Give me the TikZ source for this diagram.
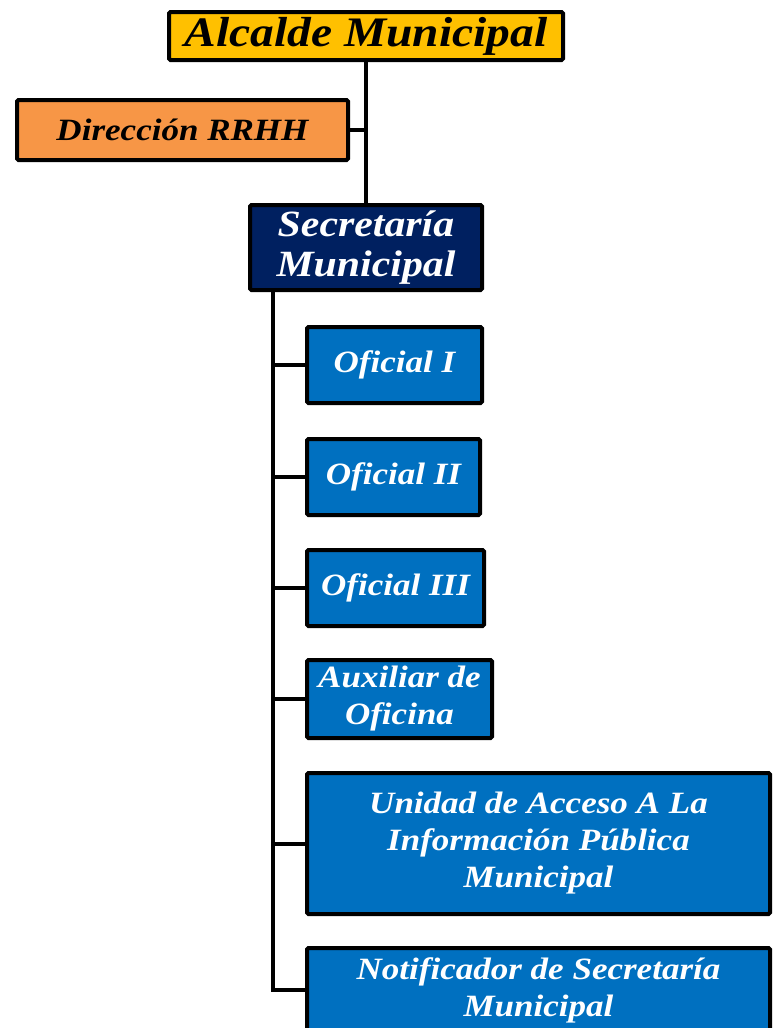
\documentclass[tikz,border=0pt]{standalone}
\usepackage{fontspec}
\setmainfont[FakeStretch=1.13]{Liberation Serif}
\usepackage{tikz}

\definecolor{colalcalde}{HTML}{FFC000}
\definecolor{colrrhh}{HTML}{F79646}
\definecolor{colsecre}{HTML}{002060}
\definecolor{colunidad}{HTML}{0070C0}

\tikzset{
  cargo/.style={draw=black, line width=4pt, rounded corners=1.5pt, align=center,
    inner sep=0pt, font=\bfseries\itshape\fontsize{31}{37}\selectfont},
  azul/.style={cargo, fill=colunidad, text=white},
  linea/.style={line width=4pt}
}

\begin{document}
\begin{tikzpicture}[x=1pt,y=-1pt]
  \useasboundingbox (0,0) rectangle (773,1028);
  % Nodes
  \node[cargo, fill=colalcalde, minimum width=394, minimum height=48,
    font=\bfseries\itshape\fontsize{42}{44}\selectfont] (alc) at (366,36) {Alcalde Municipal};
  \node[cargo, fill=colrrhh, minimum width=331, minimum height=60,
    font=\bfseries\itshape\fontsize{31}{34}\selectfont] (rrhh) at (182.5,130) {Dirección RRHH};
  \node[cargo, fill=colsecre, text=white, minimum width=232, minimum height=85,
    font=\bfseries\itshape\fontsize{37}{40}\selectfont] (sec) at (366,247.5) {Secretaría\\Municipal};
  \foreach \i/\x/\y/\w/\h/\t in {1/394.5/365/175/76/{Oficial I},
                                 2/393.5/477/173/76/{Oficial II},
                                 3/395.5/588/177/76/{Oficial III},
                                 4/399.5/699/185/78/{Auxiliar de\\Oficina},
                                 5/538.5/843.5/463/141/{Unidad de Acceso A La\\Información Pública\\Municipal},
                                 6/538.5/990/463/84/{Notificador de Secretaría\\Municipal}} {
    \node[azul, minimum width=\w, minimum height=\h] (n\i) at (\x,\y) {\t};
  }
  % Edges
  \draw[linea] (alc.south) -- (sec.north);
  \draw[linea] (rrhh.east) -- (rrhh.east -| alc.south);
  \coordinate (eje) at (273,292);
  \draw[linea] (eje) |- (n6.west);
  \foreach \i in {1,...,5} {
    \draw[linea] (eje |- n\i.west) -- (n\i.west);
  }
\end{tikzpicture}
\end{document}
